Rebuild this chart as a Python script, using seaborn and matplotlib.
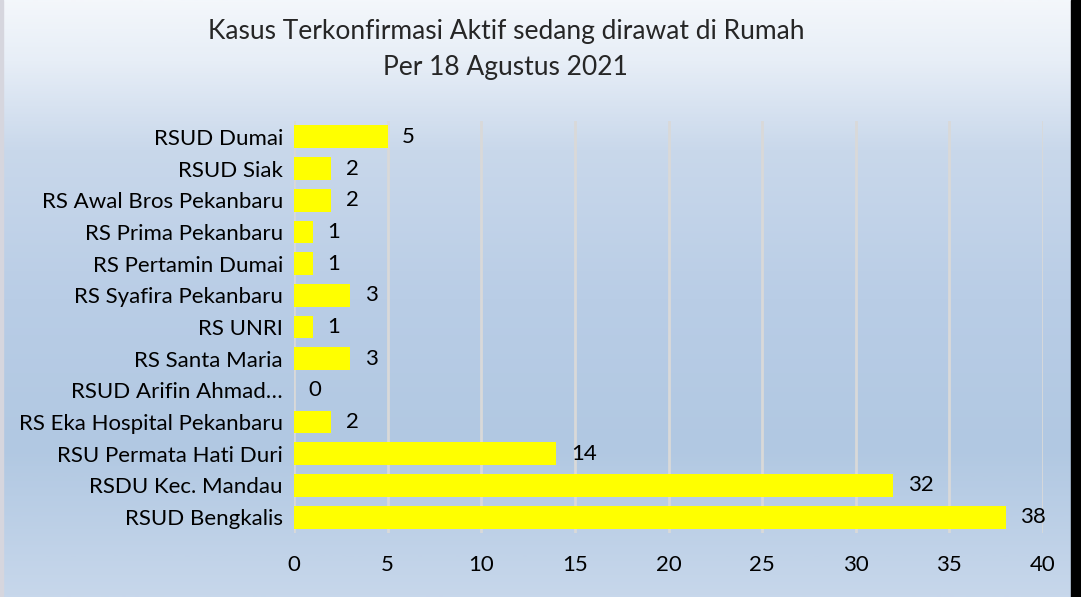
import numpy as np
import pandas as pd
import matplotlib
matplotlib.use("Agg")
import matplotlib.pyplot as plt
from matplotlib.colors import LinearSegmentedColormap, to_rgb
import seaborn as sns

# data (top to bottom as shown)
rumah_sakit = ["RSUD Dumai", "RSUD Siak", "RS Awal Bros Pekanbaru", "RS Prima Pekanbaru",
               "RS Pertamin Dumai", "RS Syafira Pekanbaru", "RS UNRI", "RS Santa Maria",
               "RSUD Arifin Ahmad…", "RS Eka Hospital Pekanbaru", "RSU Permata Hati Duri",
               "RSDU Kec. Mandau", "RSUD Bengkalis"]
kasus = [5, 2, 2, 1, 1, 3, 1, 3, 0, 2, 14, 32, 38]
x_ticks = [0, 5, 10, 15, 20, 25, 30, 35, 40]

df = pd.DataFrame({"rs": rumah_sakit, "kasus": kasus})

sns.set_style("white")
plt.rcParams["font.family"] = ["Lato", "DejaVu Sans"]

W, H = 1081, 597
fig = plt.figure(figsize=(W / 100, H / 100), dpi=100)

# gradient background
bg = fig.add_axes([0, 0, 1, 1], zorder=-10)
stops = [(0.0, "#f4f7fb"), (0.10, "#e7eef7"), (0.25, "#c9d8eb"), (0.50, "#b9cde6"),
         (0.75, "#b1c8e2"), (1.0, "#c7d7eb")]
cmap = LinearSegmentedColormap.from_list("bg", [(p, to_rgb(c)) for p, c in stops])
grad = np.linspace(0, 1, 600).reshape(-1, 1)
bg.imshow(grad, aspect="auto", cmap=cmap, extent=[0, W, H, 0])
bg.add_patch(plt.Rectangle((0, 0), 3, H, color="#d6d6de"))
bg.add_patch(plt.Rectangle((1071, 0), 10, H, color="#000000"))
bg.set_xlim(0, W)
bg.set_ylim(H, 0)
bg.axis("off")

left, right, top, bottom = 294, 1043, 121, 533
ax = fig.add_axes([left / W, 1 - bottom / H, (right - left) / W, (bottom - top) / H])
ax.set_facecolor("none")

sns.barplot(data=df, y="rs", x="kasus", orient="h", color="#ffff00",
            saturation=1, width=0.72, linewidth=0, ax=ax, zorder=3)

ax.set_xlim(0, 40)
ax.set_ylim(12.5, -0.5)
ax.set_xticks(x_ticks)
ax.xaxis.grid(True, color="#d9d9d9", linewidth=2, zorder=0)
ax.set_axisbelow(True)
for s in ax.spines.values():
    s.set_visible(False)
ax.tick_params(axis="both", length=0, labelsize=16, colors="#000000")
ax.tick_params(axis="x", pad=16)
ax.tick_params(axis="y", pad=8)
ax.set_xlabel("")
ax.set_ylabel("")

for i, v in enumerate(kasus):
    ax.annotate(str(v), (v, i), xytext=(10.5, 0), textcoords="offset points",
                va="center", ha="left", fontsize=16, color="#000000")

fig.text(0.468, 1 - 31 / H, "Kasus Terkonfirmasi Aktif sedang dirawat di Rumah",
         ha="center", va="center", fontsize=19)
fig.text(0.468, 1 - 67 / H, "Per 18 Agustus 2021", ha="center", va="center", fontsize=19)

fig.savefig("out.png", dpi=100)
